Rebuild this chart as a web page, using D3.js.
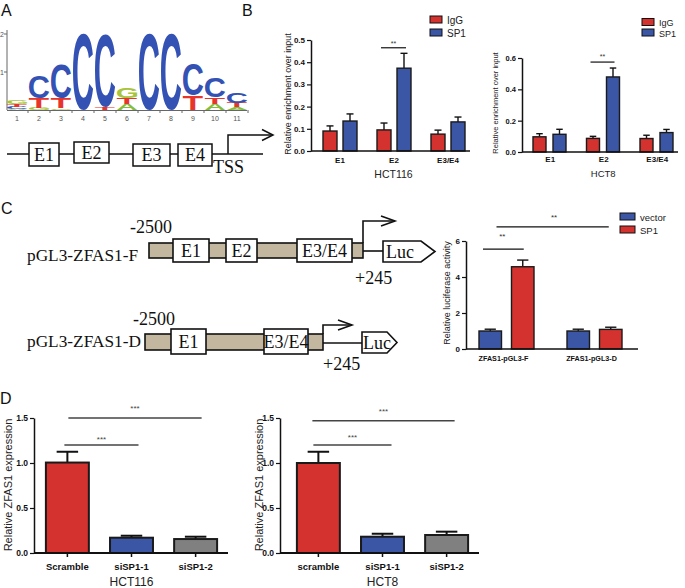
<!DOCTYPE html>
<html><head><meta charset="utf-8">
<script src="https://cdn.jsdelivr.net/npm/d3@7"></script>
<style>body{margin:0;background:#fff}svg{display:block}</style>
</head><body>
<svg id="c" width="685" height="588"></svg>
<script>
// ---------------- DATA ----------------
// Panel A: sequence logo (information content, bits)
const logoPositions = [1,2,3,4,5,6,7,8,9,10,11];
const logoA = [0.03,0,0,0,0,0.16,0,0,0,0.16,0.07];
const logoC = [0.05,0.6,0.9,2.0,1.9,0,2.0,2.0,0.84,0.53,0.28];
const logoG = [0.1,0.05,0.04,0,0,0.29,0,0,0,0,0];
const logoT = [0.08,0.26,0.26,0,0.08,0.16,0,0,0.37,0.18,0.12];
const logoTicks = [1,2];
// Panel A: gene structure
const geneExons = ["E1","E2","E3","E4"];

// Panel B: ChIP enrichment
const chipCats = ["E1","E2","E3/E4"];
const chipSeries = ["IgG","SP1"];
const hct116IgG = [0.09,0.095,0.076];
const hct116IgGErr = [0.023,0.031,0.018];
const hct116SP1 = [0.135,0.373,0.131];
const hct116SP1Err = [0.032,0.067,0.022];
const hct8IgG = [0.097,0.087,0.086];
const hct8IgGErr = [0.02,0.013,0.021];
const hct8SP1 = [0.113,0.479,0.124];
const hct8SP1Err = [0.032,0.057,0.02];
const chipTicks116 = [0,0.1,0.2,0.3,0.4,0.5];
const chipTicks8 = [0,0.2,0.4,0.6];

// Panel C: luciferase
const lucCats = ["ZFAS1-pGL3-F","ZFAS1-pGL3-D"];
const lucSeries = ["vector","SP1"];
const lucVector = [1.0,1.0];
const lucVectorErr = [0.1,0.1];
const lucSP1 = [4.57,1.09];
const lucSP1Err = [0.37,0.12];
const lucTicks = [0,2,4,6];

// Panel D: knockdown
const kdCats116 = ["Scramble","siSP1-1","siSP1-2"];
const kdCats8 = ["scramble","siSP1-1","siSP1-2"];
const kd116 = [1.005,0.17,0.155];
const kd116Err = [0.12,0.022,0.026];
const kd8 = [1.0,0.181,0.2];
const kd8Err = [0.125,0.033,0.037];
const kdTicks = [0,0.5,1.0,1.5];

// ---------------- STYLE ----------------
const SANS = '"Liberation Sans", Arial, sans-serif';
const SERIF = '"Liberation Serif", "Times New Roman", serif';
const RED = "#d3322e", BLUE = "#3b56a4", GRAY = "#808080", TAN = "#c3b89f";
const INK = "#111";
const svg = d3.select("#c");

function txt(g, x, y, s, fs, opt={}) {
  return g.append("text").attr("x", x).attr("y", y).text(s)
    .attr("font-size", fs).attr("font-family", opt.family || SANS)
    .attr("font-weight", opt.weight || "normal")
    .attr("text-anchor", opt.anchor || "start")
    .attr("fill", opt.fill || INK);
}
function vtitle(g, cx, cy, s, fs) {
  g.append("text").attr("transform", `translate(${cx},${cy}) rotate(-90)`)
    .attr("text-anchor", "middle").attr("dy", "0.35em")
    .attr("font-size", fs).attr("font-family", SANS).attr("fill", "#222").text(s);
}
function yAxis(g, y, x0, ticks, fmt, fs) {
  const a = g.append("g").attr("transform", `translate(${x0},0)`)
    .call(d3.axisLeft(y).tickValues(ticks).tickFormat(d3.format(fmt)).tickSize(4).tickSizeOuter(0).tickPadding(2));
  a.select(".domain").attr("stroke", INK).attr("stroke-width", 1.5);
  a.selectAll(".tick line").attr("stroke", INK).attr("stroke-width", 1.2);
  a.selectAll(".tick text").attr("font-size", fs).attr("font-weight", "bold")
    .attr("font-family", SANS).attr("fill", INK);
}
function hline(g, x1, x2, y, w=1.5, c=INK) {
  g.append("line").attr("x1", x1).attr("x2", x2).attr("y1", y).attr("y2", y)
    .attr("stroke", c).attr("stroke-width", w);
}
function bar(g, x, w, y, v, e, color, sw=1.5) {
  const cx = x + w / 2, capw = w / 2;
  g.append("line").attr("x1", cx).attr("x2", cx).attr("y1", y(v)).attr("y2", y(v + e))
    .attr("stroke", INK).attr("stroke-width", sw);
  g.append("line").attr("x1", cx - capw / 2).attr("x2", cx + capw / 2)
    .attr("y1", y(v + e)).attr("y2", y(v + e)).attr("stroke", INK).attr("stroke-width", sw);
  g.append("rect").attr("x", x).attr("y", y(v)).attr("width", w).attr("height", y(0) - y(v))
    .attr("fill", color).attr("stroke", "#1a1a1a").attr("stroke-width", sw);
}

// ---------------- PANEL LABELS ----------------
[["A",1,16],["B",242,16],["C",1,214],["D",0,404]].forEach(([l,x,y]) => txt(svg, x, y, l, 16));

// ---------------- PANEL A: LOGO ----------------
{
  const g = svg.append("g");
  const x = d3.scaleBand().domain(logoPositions).range([6, 248]).paddingInner(0.08).paddingOuter(0.04);
  const y = d3.scaleLinear().domain([0, 2]).range([110, 34]);
  // axes
  g.append("line").attr("x1", 7).attr("x2", 7).attr("y1", 30).attr("y2", 110).attr("stroke", "#666").attr("stroke-width", 1);
  logoTicks.forEach(t => {
    g.append("line").attr("x1", 4).attr("x2", 7).attr("y1", y(t)).attr("y2", y(t)).attr("stroke", "#666");
    txt(g, 2, y(t) + 2.5, t, 7, {anchor: "middle", fill: "#555"});
  });
  g.append("line").attr("x1", 7).attr("x2", 247).attr("y1", 110.5).attr("y2", 110.5).attr("stroke", "#666").attr("stroke-width", 1);
  logoPositions.forEach(p => {
    const bx = x(p) - x.step() * x.paddingInner() / 2;
    g.append("line").attr("x1", bx + x.step()).attr("x2", bx + x.step()).attr("y1", 110).attr("y2", 113).attr("stroke", "#666");
    txt(g, x(p) + x.bandwidth() / 2, 121, p, 7, {anchor: "middle", fill: "#555"});
  });
  // letters (each glyph stretched to its stack box)
  const ctx = document.createElement("canvas").getContext("2d");
  const LF = 100;
  ctx.font = `bold ${LF}px "Liberation Sans"`;
  const colors = {A: "#86bd3c", C: "#3452b4", G: "#a9c43a", T: "#e8352b"};
  const sets = {A: logoA, C: logoC, G: logoG, T: logoT};
  logoPositions.forEach((p, i) => {
    const stack = Object.keys(sets).map(k => [k, sets[k][i]]).filter(d => d[1] > 0)
      .sort((a, b) => a[1] - b[1]);
    let cum = 0;
    stack.forEach(([L, h]) => {
      const y0 = y(cum), y1 = y(cum + h);
      cum += h;
      const m = ctx.measureText(L);
      const l = m.actualBoundingBoxLeft, r = m.actualBoundingBoxRight;
      const a = m.actualBoundingBoxAscent, d = m.actualBoundingBoxDescent;
      const w = x.bandwidth(), hh = y0 - y1;
      g.append("text").text(L).attr("font-size", LF).attr("font-weight", "bold")
        .attr("font-family", SANS).attr("fill", colors[L])
        .attr("transform", `translate(${x(p)},${y1}) scale(${w / (l + r)},${hh / (a + d)}) translate(${l},${a})`);
    });
  });
  // gene structure
  hline(g, 7, 263, 154, 1.5);
  const boxes = [[29,143,30,23],[74,142,35,21],[133,144,37,22],[178,144,34,22]];
  geneExons.forEach((e, i) => {
    const [bx, by, bw, bh] = boxes[i];
    g.append("rect").attr("x", bx).attr("y", by).attr("width", bw).attr("height", bh)
      .attr("fill", "#fff").attr("stroke", INK).attr("stroke-width", 1.5);
    txt(g, bx + bw / 2, by + bh / 2 + 6, e, 18, {family: SERIF, anchor: "middle"});
  });
  txt(g, 213, 173, "TSS", 18, {family: SERIF});
  g.append("path").attr("d", "M228,154V135H272").attr("fill", "none").attr("stroke", INK).attr("stroke-width", 1.5);
  g.append("path").attr("d", "M262,129.5L273,135L262,140.5").attr("fill", "none").attr("stroke", INK).attr("stroke-width", 1.5);
}

// ---------------- PANEL B ----------------
function chipChart(cfg) {
  const g = svg.append("g");
  const x = d3.scaleBand().domain(chipCats).range(cfg.xr);
  const xi = d3.scaleBand().domain(chipSeries).range(cfg.xir).paddingInner(cfg.pi);
  const y = d3.scaleLinear().domain([0, cfg.ymax]).range(cfg.yr);
  const vals = [cfg.igg, cfg.sp1], errs = [cfg.iggErr, cfg.sp1Err], cols = [RED, BLUE];
  chipCats.forEach((c, i) => chipSeries.forEach((s, j) =>
    bar(g, x(c) + xi(s), xi.bandwidth(), y, vals[j][i], errs[j][i], cols[j], 1.4)));
  hline(g, cfg.ax, cfg.axEnd, y(0), 1.5);
  yAxis(g, y, cfg.ax, cfg.ticks, ".1f", cfg.tfs);
  chipCats.forEach(c => txt(g, x(c) + x.bandwidth() / 2, cfg.catY, c, cfg.cfs, {weight: "bold", anchor: "middle"}));
  txt(g, (x.range()[0] + x.range()[1]) / 2 + cfg.labDx, cfg.labY, cfg.label, cfg.lfs, {anchor: "middle", fill: "#222"});
  vtitle(g, cfg.tx, cfg.ty, "Relative enrichment over input", cfg.yfs);
  // significance
  const e2 = x("E2");
  const sx1 = e2 + xi("IgG") + 4, sx2 = e2 + xi("SP1") + xi.bandwidth() - 5;
  hline(g, sx1, sx2, y(cfg.sig), 1.2);
  txt(g, (sx1 + sx2) / 2, cfg.starY, "**", 7, {anchor: "middle", fill: "#333"});
  // legend
  chipSeries.forEach((s, j) => {
    g.append("rect").attr("x", cfg.lgx).attr("y", cfg.lgy[j]).attr("width", 12).attr("height", 7)
      .attr("fill", cols[j]).attr("stroke", INK).attr("stroke-width", 1);
    txt(g, cfg.lgx + 17, cfg.lgy[j] + 7.5, s, cfg.lgfs, {fill: "#222"});
  });
}
chipChart({xr: [313, 475], xir: [10, 44], pi: 0.3, ymax: 0.5, yr: [151, 40],
  igg: hct116IgG, iggErr: hct116IgGErr, sp1: hct116SP1, sp1Err: hct116SP1Err,
  ax: 311, axEnd: 470, ticks: chipTicks116, tfs: 8, cfs: 8, catY: 163,
  label: "HCT116", labY: 178, lfs: 10.5, labDx: -0.5, tx: 288, ty: 94, yfs: 9,
  sig: 0.465, starY: 46, lgx: 430, lgy: [16, 29], lgfs: 10});
chipChart({xr: [523.5, 684], xir: [9.5, 42.5], pi: 0.35, ymax: 0.6, yr: [152, 58],
  igg: hct8IgG, iggErr: hct8IgGErr, sp1: hct8SP1, sp1Err: hct8SP1Err,
  ax: 522, axEnd: 678, ticks: chipTicks8, tfs: 7.5, cfs: 8, catY: 162,
  label: "HCT8", labY: 177, lfs: 9.5, labDx: -0.5, tx: 495, ty: 103, yfs: 7.5,
  sig: 0.574, starY: 59, lgx: 642, lgy: [18.5, 29], lgfs: 9});

// ---------------- PANEL C: constructs ----------------
{
  const g = svg.append("g");
  function construct(c) {
    g.append("rect").attr("x", c.bar[0]).attr("y", c.bar[1]).attr("width", c.bar[2] - c.bar[0])
      .attr("height", c.bar[3] - c.bar[1]).attr("fill", TAN).attr("stroke", INK).attr("stroke-width", 1.6);
    c.boxes.forEach(([lab, x0, x1]) => {
      g.append("rect").attr("x", x0).attr("y", c.by[0]).attr("width", x1 - x0).attr("height", c.by[1] - c.by[0])
        .attr("fill", "#fff").attr("stroke", INK).attr("stroke-width", 1.6);
      txt(g, (x0 + x1) / 2, (c.by[0] + c.by[1]) / 2 + 6, lab, 18, {family: SERIF, anchor: "middle"});
    });
    hline(g, c.bar[2], c.luc[0], c.lineY, 1.6);
    const [lx, ly0, lx1, ltip, ly1] = c.luc;
    g.append("path").attr("d", `M${lx},${ly0}H${lx1}L${ltip},${(ly0 + ly1) / 2}L${lx1},${ly1}H${lx}Z`)
      .attr("fill", "#fff").attr("stroke", INK).attr("stroke-width", 1.6);
    txt(g, c.lucTx, c.lucTy, "Luc", 18, {family: SERIF});
    const [ax, ay0, ay1, ax1] = c.arrow;
    g.append("path").attr("d", `M${ax},${ay0}V${ay1}H${ax1}`).attr("fill", "none").attr("stroke", INK).attr("stroke-width", 1.6);
    g.append("path").attr("d", `M${ax1 - 14},${ay1 - 5}L${ax1},${ay1}L${ax1 - 14},${ay1 + 5}`).attr("fill", "none").attr("stroke", INK).attr("stroke-width", 1.6);
    txt(g, c.name[1], c.name[2], c.name[0], 17.3, {family: SERIF});
    txt(g, c.m2500[0], c.m2500[1], "-2500", 18, {family: SERIF});
    txt(g, c.p245[0], c.p245[1], "+245", 18, {family: SERIF});
  }
  construct({bar: [149, 243, 363, 258], by: [239, 262],
    boxes: [["E1", 173, 209], ["E2", 226, 257], ["E3/E4", 297, 352]],
    lineY: 251, luc: [383, 241, 421, 435, 262], lucTx: 386, lucTy: 258,
    arrow: [363, 243, 221, 395], name: ["pGL3-ZFAS1-F", 27, 261], m2500: [130, 233], p245: [355, 284]});
  construct({bar: [145, 334, 323, 350], by: [329, 354],
    boxes: [["E1", 171, 206], ["E3/E4", 264, 308]],
    lineY: 343, luc: [362, 332, 387, 397, 353], lucTx: 363, lucTy: 349,
    arrow: [323, 334, 325, 352], name: ["pGL3-ZFAS1-D", 27, 347], m2500: [133, 325], p245: [323, 370]});
}

// ---------------- PANEL C: luciferase chart ----------------
{
  const g = svg.append("g");
  const x = d3.scaleBand().domain(lucCats).range([462.5, 638.5]);
  const xi = d3.scaleBand().domain(lucSeries).range([16.5, 71.5]).paddingInner(0.3077);
  const y = d3.scaleLinear().domain([0, 6]).range([349, 241]);
  const vals = [lucVector, lucSP1], errs = [lucVectorErr, lucSP1Err], cols = [BLUE, RED];
  lucCats.forEach((c, i) => lucSeries.forEach((s, j) =>
    bar(g, x(c) + xi(s), xi.bandwidth(), y, vals[j][i], errs[j][i], cols[j], 1.4)));
  hline(g, 466, 638, y(0), 1.5);
  yAxis(g, y, 466, lucTicks, "d", 8);
  lucCats.forEach(c => txt(g, x(c) + x.bandwidth() / 2 - 3, 361, c, 7.2, {weight: "bold", anchor: "middle"}));
  vtitle(g, 447, 293, "Relative luciferase activity", 9);
  const F = x(lucCats[0]), D = x(lucCats[1]);
  const l1a = F + xi("vector") + 4, l1b = F + xi("SP1") + xi.bandwidth() / 2 + 1;
  hline(g, l1a, l1b, y(5.55), 1.2);
  txt(g, (l1a + l1b) / 2 - 1, 238.5, "**", 8, {anchor: "middle", fill: "#333"});
  const l2a = F + xi("vector") + xi.bandwidth() - 5, l2b = D + xi("SP1") + xi.bandwidth() / 2 - 2;
  hline(g, l2a, l2b, y(6.78), 1.2);
  txt(g, (l2a + l2b) / 2 + 1.5, 220, "**", 8, {anchor: "middle", fill: "#333"});
  lucSeries.forEach((s, j) => {
    g.append("rect").attr("x", 620).attr("y", [213, 226][j]).attr("width", 15).attr("height", 7)
      .attr("fill", cols[j]).attr("stroke", INK).attr("stroke-width", 1);
    txt(g, 640, [213, 226][j] + 7.5, s, 9.5, {fill: "#222"});
  });
}

// ---------------- PANEL D ----------------
function kdChart(cfg) {
  const g = svg.append("g");
  const x = d3.scaleBand().domain(cfg.cats).range(cfg.xr).paddingInner(0.33).paddingOuter(0.17);
  const y = d3.scaleLinear().domain([0, 1.5]).range([553, 418]);
  const cols = [RED, BLUE, GRAY];
  cfg.cats.forEach((c, i) => bar(g, x(c), x.bandwidth(), y, cfg.vals[i], cfg.errs[i], cols[i], 2));
  const xa = g.append("g").attr("transform", `translate(0,${y(0)})`)
    .call(d3.axisBottom(x).tickSize(4).tickPadding(4));
  xa.select(".domain").remove();
  xa.selectAll(".tick line").attr("stroke", INK).attr("stroke-width", 1.5);
  xa.selectAll(".tick text").attr("font-size", 9.5).attr("font-weight", "bold")
    .attr("font-family", SANS).attr("fill", INK).attr("dy", "0.95em");
  hline(g, cfg.ax, cfg.axEnd, y(0), 1.8);
  yAxis(g, y, cfg.ax, kdTicks, ".1f", 8.5);
  txt(g, x(cfg.cats[1]) + x.bandwidth() / 2, 585.5, cfg.label, 12, {anchor: "middle", fill: "#222"});
  vtitle(g, cfg.tx, 485, "Relative ZFAS1 expression", 11);
  const c0 = x(cfg.cats[0]) + x.bandwidth() / 2;
  cfg.sigs.forEach(s => {
    const x2 = x(cfg.cats[s.to]) + x.bandwidth() / 2 + s.dx2;
    hline(g, c0 + s.dx1, x2, y(s.v), 1.6, "#444");
    txt(g, (c0 + s.dx1 + x2) / 2, s.sy, "***", 8, {anchor: "middle", fill: "#444"});
  });
}
kdChart({cats: kdCats116, vals: kd116, errs: kd116Err, xr: [35, 228], ax: 34, axEnd: 228,
  label: "HCT116", tx: 8,
  sigs: [{to: 1, v: 1.2, dx1: -3, dx2: 7, sy: 442}, {to: 2, v: 1.5, dx1: 1, dx2: 6, sy: 411}]});
kdChart({cats: kdCats8, vals: kd8, errs: kd8Err, xr: [286, 479], ax: 280, axEnd: 479,
  label: "HCT8", tx: 259,
  sigs: [{to: 1, v: 1.2, dx1: -5, dx2: 9, sy: 440}, {to: 2, v: 1.47, dx1: -6, dx2: 8, sy: 414}]});
</script>
</body></html>
